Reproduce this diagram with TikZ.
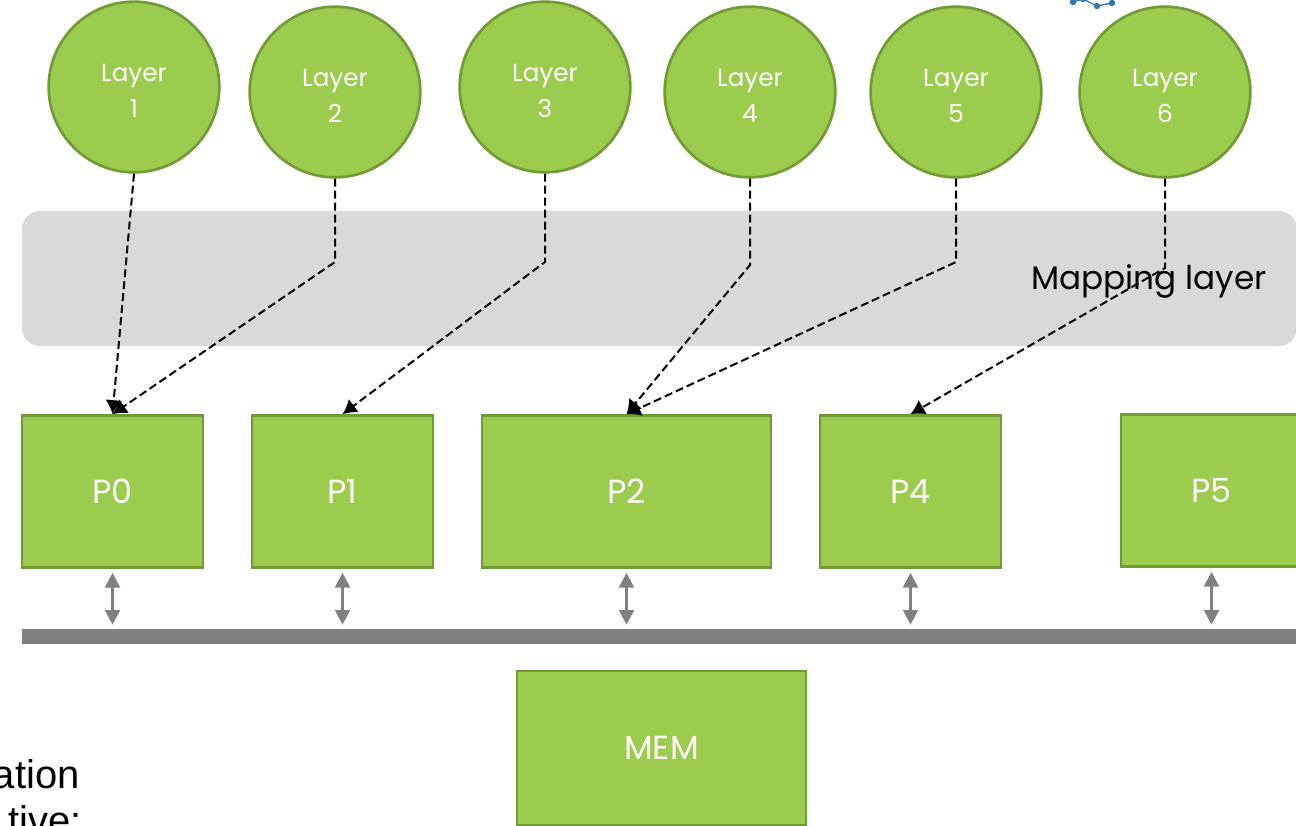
\documentclass[tikz,border=0pt]{standalone}
\usepackage{fontspec}
\setmainfont{Poppins}
\newfontfamily\arialf{Liberation Sans}
\usetikzlibrary{arrows.meta}
\definecolor{gfill}{HTML}{9BCC4E}
\definecolor{gline}{HTML}{719B35}
\definecolor{maplayer}{HTML}{D9D9D9}
\definecolor{busgray}{HTML}{808080}
\definecolor{dotblue}{HTML}{2E75B6}
\tikzset{
  layernode/.style={circle, fill=gfill, draw=gline, line width=2pt, minimum size=128pt, inner sep=0pt,
    label={[layerlabel]center:Layer\\#1}},
  layerlabel/.style={text=white, align=center, inner sep=0pt, yshift=-3pt, font=\fontsize{18.5pt}{27pt}\selectfont},
  procbox/.style={rectangle, fill=gfill, draw=gline, line width=2pt, minimum height=114pt, inner sep=0pt,
    text=white, font=\fontsize{25pt}{30pt}\selectfont},
  maparrow/.style={line width=1.5pt, dash pattern=on 6pt off 3pt, -{Latex[length=10.5pt,width=12.5pt]}},
  busarrow/.style={line width=2.2pt, busgray, {Triangle[length=11pt,width=11pt]}-{Triangle[length=11pt,width=11pt]}, shorten <=3pt, shorten >=3pt},
}
\begin{document}
\begin{tikzpicture}[x=0.75pt,y=-0.75pt]
\useasboundingbox (0,0) rectangle (1296,825);
\clip (0,0) rectangle (1296,825);

% mapping layer band
\fill[maplayer, rounded corners=13.5pt] (22,211) rectangle (1297,346);
\node[font=\fontsize{24.5pt}{28pt}\selectfont, text=black] (maptext) at (1149,281) {Mapping layer};

% blue clipart remnant
\draw[dotblue, line width=1pt] (1073,2) -- (1083,-1) -- (1097,6) -- (1112,3);
\foreach \px/\py in {1073/2, 1083/-1, 1097/6, 1112/3}
  \fill[dotblue] (\px,\py) circle (2.4pt);

% layer circles
\node[layernode=1] (L1) at (134,87)  {};
\node[layernode=2] (L2) at (335,92)  {};
\node[layernode=3] (L3) at (545,87)  {};
\node[layernode=4] (L4) at (750,92)  {};
\node[layernode=5] (L5) at (956,92)  {};
\node[layernode=6] (L6) at (1165,92) {};

% processors
\node[procbox, minimum width=135.75pt] (P0) at (112.5,491.5) {P0};
\node[procbox, minimum width=135.75pt] (P1) at (342.5,491.5) {P1};
\node[procbox, minimum width=216.75pt] (P2) at (626.5,491.5) {P2};
\node[procbox, minimum width=135.75pt] (P4) at (910.5,491.5) {P4};
\node[procbox, minimum width=135.75pt] (P5) at (1211.5,490.5) {P5};

% bus
\node[rectangle, fill=busgray, inner sep=0pt, minimum width=966pt, minimum height=11.25pt] (bus) at (666,636.5) {};

% memory
\node[procbox, minimum width=216.75pt, minimum height=115.5pt] (MEM) at (661.5,748) {MEM};

% bus connectors
\foreach \p in {P0,P1,P2,P4,P5}
  \draw[busarrow] (\p.south) -- (\p.south |- bus.north);

% elbow points
\coordinate (e2) at (335,262);
\coordinate (e3) at (545,262);
\coordinate (e4) at (750,265);
\coordinate (e5) at (956,262);
\coordinate (e6) at (1165,268);

% mapping arrows
\draw[maparrow] (L1.south) -- (P0.north);
\draw[maparrow] (L2.south) -- (e2) -- (P0.north);
\draw[maparrow] (L3.south) -- (e3) -- (P1.north);
\draw[maparrow] (L4.south) -- (e4) -- (P2.north);
\draw[maparrow] (L5.south) -- (e5) -- (P2.north);
\draw[maparrow] (L6.south) -- (e6) -- (P4.north);

% stray text at bottom left
\node[anchor=base east, inner sep=0pt, font=\arialf\fontsize{30pt}{34pt}\selectfont] (t1) at (80,788) {ation};
\node[anchor=base east, inner sep=0pt, font=\arialf\fontsize{30pt}{34pt}\selectfont] (t2) at (82,834) {tive:};
\end{tikzpicture}
\end{document}
